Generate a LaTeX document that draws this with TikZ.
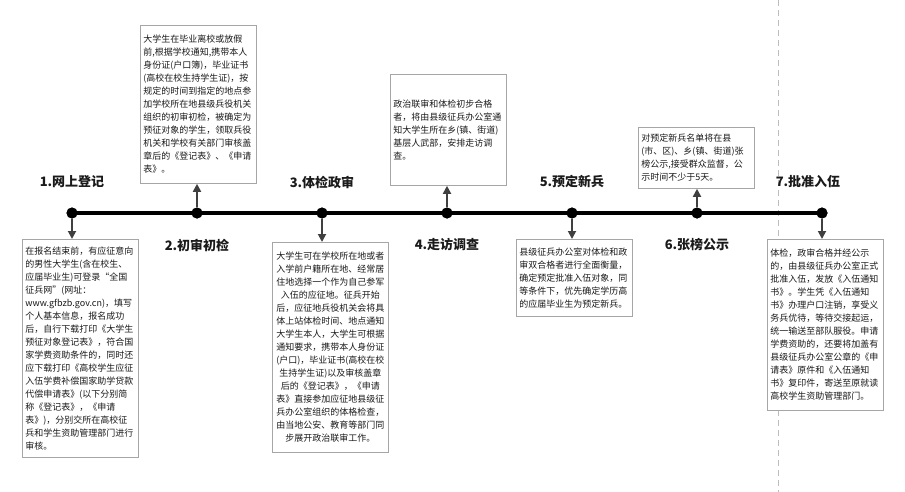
\documentclass[tikz,border=0pt]{standalone}
\usepackage{fontspec}
\setmainfont{Noto Sans CJK SC}
\usetikzlibrary{arrows.meta}
\definecolor{boxgray}{HTML}{A6A6A6}
\definecolor{arrgray}{HTML}{404040}
\definecolor{dashgray}{HTML}{BDBDBD}
\definecolor{txt}{HTML}{1A1A1A}
\tikzset{
  infobox/.style={draw=boxgray, line width=0.8pt, fill=white, text width=110pt,
    inner xsep=3pt, inner ysep=3pt, align=left, anchor=north west, text=txt,
    font=\fontsize{9pt}{13pt}\selectfont},
  steptitle/.style={font=\fontsize{13pt}{15pt}\selectfont\bfseries, text=txt},
  tdot/.style={circle, fill=black, minimum size=11pt, inner sep=0pt},
  conn/.style={draw=arrgray, line width=1.8pt, -{Triangle[width=8pt,length=8pt]}},
  divline/.style={draw=dashgray, line width=0.9pt, dash pattern=on 6pt off 4pt},
}
\begin{document}
\begin{tikzpicture}[x=1pt,y=-1pt]
\useasboundingbox (0,0) rectangle (905,492);
\coordinate (dtop) at (778,0);
\coordinate (dbot) at (778,492);
\draw[divline] (dtop) -- (dbot);

% dots
\node[tdot] (d1) at (72,213) {};
\node[tdot] (d2) at (197,213) {};
\node[tdot] (d3) at (322,213) {};
\node[tdot] (d4) at (447,213) {};
\node[tdot] (d5) at (572,213) {};
\node[tdot] (d6) at (697,213) {};
\node[tdot] (d7) at (822,213) {};
\draw[line width=4pt] (d1.center) -- (d7.center);
\foreach \i/\x in {1/72,2/197,3/322,4/447,5/572,6/697,7/822}
  \fill (\x,213) circle (5.5pt);

% titles
\node[steptitle] (t1) at (72,182) {1.网上登记};
\node[steptitle] (t2) at (197,245) {2.初审初检};
\node[steptitle] (t3) at (322,182) {3.体检政审};
\node[steptitle] (t4) at (447,245) {4.走访调查};
\node[steptitle] (t5) at (572,182) {5.预定新兵};
\node[steptitle] (t6) at (697,245) {6.张榜公示};
\node[steptitle] (t7) at (808,182) {7.批准入伍};

% boxes
\node[infobox, minimum height=218pt] (b1) at (22,239) {在报名结束前，有应征意向\\的男性大学生(含在校生、\\应届毕业生)可登录“全国\\征兵网”(网址：\\www.gfbzb.gov.cn)，填写\\个人基本信息，报名成功\\后，自行下载打印《大学生\\预征对象登记表》，符合国\\家学费资助条件的，同时还\\应下载打印《高校学生应征\\入伍学费补偿国家助学贷款\\代偿申请表》(以下分别简\\称《登记表》，《申请\\表》)，分别交所在高校征\\兵和学生资助管理部门进行\\审核。};

\node[infobox, minimum height=158pt] (b2) at (140,25) {大学生在毕业离校或放假\\前,根据学校通知,携带本人\\身份证(户口簿)，毕业证书\\(高校在校生持学生证)，按\\规定的时间到指定的地点参\\加学校所在地县级兵役机关\\组织的初审初检，被确定为\\预征对象的学生，领取兵役\\机关和学校有关部门审核盖\\章后的《登记表》、《申请\\表》。};

\node[infobox, align=center, minimum height=210pt] (b3) at (272,242) {大学生可在学校所在地或者\\入学前户籍所在地、经常居\\住地选择一个作为自己参军\\入伍的应征地。征兵开始\\后，应征地兵役机关会将具\\体上站体检时间、地点通知\\大学生本人，大学生可根据\\通知要求，携带本人身份证\\(户口)，毕业证书(高校在校\\生持学生证)以及审核盖章\\后的《登记表》，《申请\\表》直接参加应征地县级征\\兵办公室组织的体格检查，\\由当地公安、教育等部门同\\步展开政治联审工作。};

\node[infobox, minimum height=111pt] (b4) at (390,74) {政治联审和体检初步合格\\者，将由县级征兵办公室通\\知大学生所在乡(镇、街道)\\基层人武部，安排走访调\\查。};

\node[infobox, minimum height=77pt] (b5) at (516,239) {县级征兵办公室对体检和政\\审双合格者进行全面衡量，\\确定预定批准入伍对象，同\\等条件下，优先确定学历高\\的应届毕业生为预定新兵。};

\node[infobox, minimum height=61pt] (b6) at (638,127) {对预定新兵名单将在县\\(市、区)、乡(镇、街道)张\\榜公示,接受群众监督，公\\示时间不少于5天。};

\node[infobox, minimum height=171pt] (b7) at (767,239) {体检，政审合格并经公示\\的，由县级征兵办公室正式\\批准入伍，发放《入伍通知\\书》。学生凭《入伍通知\\书》办理户口注销，享受义\\务兵优待，等待交接起运，\\统一输送至部队服役。申请\\学费资助的，还要将加盖有\\县级征兵办公室公章的《申\\请表》原件和《入伍通知\\书》复印件，寄送至原就读\\高校学生资助管理部门。};

% connectors
\draw[conn] (d1.south) -- (d1 |- b1.north);
\draw[conn] (d2.north) -- (d2 |- b2.south);
\draw[conn] (d3.south) -- (d3 |- b3.north);
\draw[conn] (d4.north) -- (d4 |- b4.south);
\draw[conn] (d5.south) -- (d5 |- b5.north);
\draw[conn] (d6.north) -- (d6 |- b6.south);
\draw[conn] (d7.south) -- (d7 |- b7.north);
\end{tikzpicture}
\end{document}
